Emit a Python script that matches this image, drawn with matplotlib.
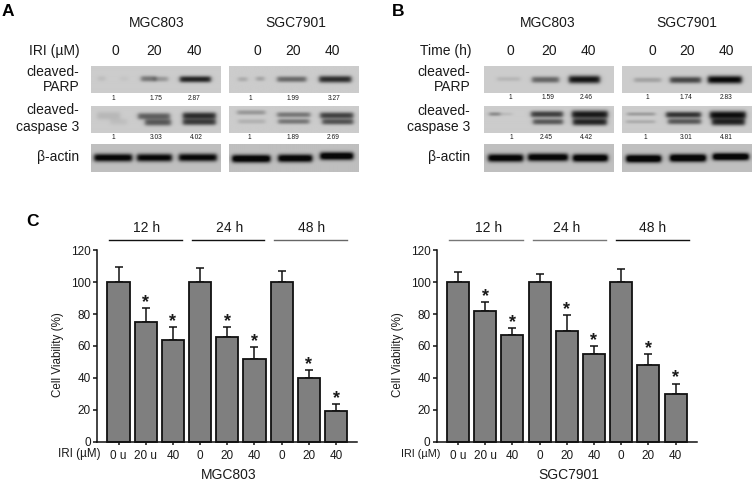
import numpy as np
import matplotlib
matplotlib.use("Agg")
import matplotlib.pyplot as plt
from matplotlib.lines import Line2D

plt.rcParams['font.family'] = ['Liberation Sans', 'DejaVu Sans']
W, H = 753, 483
TXT = '#1a1a1a'

# ---------- bar chart data ----------
dose_labels = ['0 u', '20 u', '40', '0', '20', '40', '0', '20', '40']
time_labels = ['12 h', '24 h', '48 h']
mgc_means = [100, 75, 64, 100, 65.5, 52, 100, 40, 19]
mgc_tops = [109.7, 83.6, 71.8, 108.7, 72, 59.3, 107.2, 45, 23.5]
sgc_means = [100, 82, 67, 100, 69.5, 55, 100, 48, 30]
sgc_tops = [106.6, 87.7, 71.4, 105.3, 79.2, 59.9, 108.5, 55, 36.4]
starred = [1, 2, 4, 5, 7, 8]
yticks = [0, 20, 40, 60, 80, 100, 120]

# ---------- densitometry labels ----------
quant_a = [['1', '1.75', '2.87'], ['1', '1.99', '3.27'], ['1', '3.03', '4.02'], ['1', '1.89', '2.69']]
quant_b = [['1', '1.59', '2.46'], ['1', '1.74', '2.83'], ['1', '2.45', '4.42'], ['1', '3.01', '4.81']]

# ---------- western blot bands: (x start, x end, y, half height, darkness) in picture pixels ----------
blots = [
    # panel A, MGC803
    ((91, 221, 66, 93.5), [(98, 105, 79.3, 2, .06), (120, 128, 79.5, 2, .03), (141, 156, 79.5, 2.2, .33), (154, 168, 79.8, 2, .2), (180, 211, 80, 2.4, .66)]),
    ((91, 221, 105.5, 133), [(97, 120, 116, 3, .08), (110, 127, 122, 2.5, .05), (138, 170, 116.5, 2.5, .42), (145, 171, 122.7, 2.5, .45), (183, 216, 116, 2.6, .62), (183, 216, 122.3, 2.4, .56)]),
    ((91, 221, 144, 172), [(94, 132, 157.7, 3, .78), (137, 172, 157.7, 3, .75), (179, 217, 157.5, 3, .75)]),
    # panel A, SGC7901
    ((229, 358.5, 66, 93.5), [(238, 247, 80, 1.8, .13), (256, 264, 79.5, 1.8, .16), (277, 306, 80, 2.2, .38), (319, 351, 80, 2.6, .62)]),
    ((229, 358.5, 105.5, 133), [(237, 265, 112.7, 1.8, .2), (238, 265, 121.7, 1.8, .1), (277, 310, 115, 2, .33), (278, 309, 121.7, 2, .33), (320, 353, 115.7, 2.4, .54), (322, 353, 122, 2.2, .47)]),
    ((229, 358.5, 144, 172), [(232, 270, 158.7, 3, .85), (278, 312, 158.3, 3, .82), (320, 353, 156, 3, .85)]),
    # panel B, MGC803
    ((484, 614, 66, 93), [(497, 520, 79, 1.8, .08), (532, 559, 79.7, 2.4, .4), (569, 600, 79.5, 3, .72)]),
    ((484, 614, 105.5, 133), [(489, 500, 114.3, 1.5, .25), (500, 512, 114.3, 1.3, .06), (531, 563, 114.5, 2.4, .55), (533, 563, 122, 2.2, .45), (572, 608, 114.7, 3, .7), (573, 607, 122.3, 2.6, .65)]),
    ((484, 614, 144, 172), [(488, 523, 158, 3, .82), (528, 568, 157.3, 3, .82), (573, 608, 158, 3, .86)]),
    # panel B, SGC7901
    ((622, 752, 66, 93), [(634, 661, 80, 1.9, .16), (670, 701, 80, 2.5, .52), (708, 742, 79.7, 3, .78)]),
    ((622, 752, 105.5, 133), [(627, 655, 114.3, 1.4, .18), (626, 655, 122, 1.4, .12), (666, 701, 115, 2.3, .6), (668, 701, 121.7, 2.2, .45), (710, 746, 115.3, 3, .75), (712, 745, 122.3, 2.6, .65)]),
    ((622, 752, 144, 172), [(626, 661, 158.7, 3, .9), (670, 706, 158, 3, .9), (713, 749, 156.7, 2.8, .9)]),
]

fig = plt.figure(figsize=(W / 100, H / 100), dpi=100, facecolor='white')


def label(x, y, s, size=10, ha='center', va='center', **kw):
    kw.setdefault('color', TXT)
    return fig.text(x / W, 1 - y / H, s, fontsize=size, ha=ha, va=va, **kw)


def pixel_axes(x0, x1, y0, y1):
    return fig.add_axes([x0 / W, 1 - y1 / H, (x1 - x0) / W, (y1 - y0) / H])


# ---------- blots ----------
for i, ((x0, x1, y0, y1), bands) in enumerate(blots):
    ax = pixel_axes(x0, x1, y0, y1)
    xs = np.linspace(x0, x1, int((x1 - x0) * 2))
    ys = np.linspace(y0, y1, int((y1 - y0) * 2))
    X, Y = np.meshgrid(xs, ys)
    base = 0.75 if (i % 3) == 2 else 0.80
    img = np.full_like(X, base)
    for bx0, bx1, by, bh, d in bands:
        edge = 2.4
        profile = 0.25 * (1 + np.tanh((X - bx0) / edge)) * (1 + np.tanh((bx1 - X) / edge))
        img -= d * profile * np.exp(-(np.abs(Y - by) / (bh * 1.35)) ** 2.4)
    ax.imshow(np.clip(img, 0.03, 1), cmap='gray', vmin=0, vmax=1, aspect='auto',
              interpolation='bilinear', extent=(x0, x1, y1, y0))
    ax.axis('off')

# ---------- blot text, panel A ----------
label(2, 11, 'A', 12.5, ha='left', weight='bold', color='black')
label(392, 11, 'B', 12.5, ha='left', weight='bold', color='black')
label(26, 222, 'C', 12.5, ha='left', weight='bold', color='black')

label(157, 23, 'MGC803')
label(296, 23, 'SGC7901')
label(80, 51, 'IRI (µM)', ha='right')
for x, s in zip([115, 154, 194, 257, 293, 332], ['0', '20', '40', '0', '20', '40']):
    label(x, 51, s)
for x, y, s in [(79.5, 72.5, 'cleaved-'), (79.5, 87, 'PARP'), (79.5, 110, 'cleaved-'), (79.5, 127, 'caspase 3'), (79, 157.5, 'β-actin')]:
    label(x, y, s, ha='right')

for (y, xs), row in zip([(98, [113, 156, 194]), (98, [250, 292.5, 334.5]), (137.5, [113.5, 156, 196]), (137.5, [249, 293, 333])], quant_a):
    for x, s in zip(xs, row):
        label(x, y, s, 4.8)

# ---------- blot text, panel B ----------
label(548, 23, 'MGC803')
label(687, 23, 'SGC7901')
label(471, 51, 'Time (h)', ha='right')
for x, s in zip([510, 549, 588, 652, 687, 726], ['0', '20', '40', '0', '20', '40']):
    label(x, 51, s)
for y, s in [(72.5, 'cleaved-'), (87, 'PARP'), (111, 'cleaved-'), (127, 'caspase 3'), (157.5, 'β-actin')]:
    label(470.5, y, s, ha='right')

for (y, xs), row in zip([(97.5, [510, 548, 586]), (97.5, [647, 686, 726]), (137.5, [511, 546, 586]), (137.5, [645, 686, 726])], quant_b):
    for x, s in zip(xs, row):
        label(x, y, s, 4.8)


# ---------- bar charts ----------
def viability(x0, x1, first_center, means, tops, name, ylab_x, iri_right, iri_size, name_x,
              group_x, group_lines, group_cols, group_y):
    step = 27.2
    ax = pixel_axes(x0, x1, 250.3, 441.5)
    ax.patch.set_alpha(0)
    pos = np.arange(len(means))
    err = np.array(tops) - np.array(means)
    ax.bar(pos, means, width=0.81, color='#7f7f7f', edgecolor='#111111', linewidth=1.3,
           yerr=[np.zeros_like(err), err], zorder=2,
           error_kw=dict(ecolor='#111111', elinewidth=1.1, capsize=3.2, capthick=1.1, zorder=1),
           clip_on=False)
    ax.set_xlim((x0 - first_center) / step, (x1 - first_center) / step)
    ax.set_ylim(0, 120)
    ax.set_yticks(yticks)
    ax.set_xticks(pos)
    ax.set_xticklabels(dose_labels)
    ax.tick_params(axis='y', length=3, width=1.1, pad=1.5, labelsize=8.5, labelcolor=TXT, color='#111111')
    ax.tick_params(axis='x', length=2.3, width=1.1, pad=3.5, labelsize=8.5, labelcolor=TXT, color='#111111')
    for s in ['top', 'right']:
        ax.spines[s].set_visible(False)
    for s in ['left', 'bottom']:
        ax.spines[s].set_linewidth(1.1)
        ax.spines[s].set_color('#111111')
    for i in starred:
        ax.annotate('*', (pos[i], tops[i]), xytext=(0, 0.8), textcoords='offset points',
                    ha='center', va='baseline', fontsize=13, weight='bold', color=TXT,
                    annotation_clip=False)
    label(ylab_x, 355, 'Cell Viability (%)', 8.4, rotation=90)
    label(iri_right, 454, 'IRI (µM)', iri_size, ha='right')
    label(name_x, 475, name)
    for gx, (lx0, lx1), col, t in zip(group_x, group_lines, group_cols, time_labels):
        label(gx, 228, t)
        fig.add_artist(Line2D([lx0 / W, lx1 / W], [1 - group_y / H] * 2, color=col, lw=1.0,
                              transform=fig.transFigure))


viability(97, 357, 118.5, mgc_means, mgc_tops, 'MGC803', 58, 101, 8.4, 228.7,
          [146.7, 230, 311.7], [(109.3, 182.3), (191.7, 264.3), (274, 346.7)],
          ['#111111', '#111111', '#666666'], 240)
viability(436.7, 696.7, 458, sgc_means, sgc_tops, 'SGC7901', 398.3, 440, 7.8, 568.3,
          [489, 566.7, 652.3], [(449.3, 522.7), (533, 606), (616, 689.3)],
          ['#777777', '#777777', '#111111'], 240.5)

fig.savefig('out.png', dpi=100, facecolor='white')
